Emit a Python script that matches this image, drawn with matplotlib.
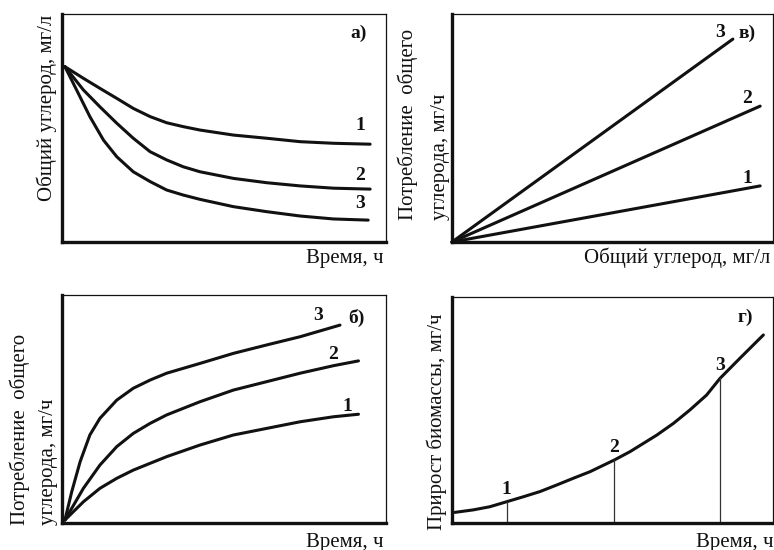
import matplotlib
matplotlib.use("Agg")
import matplotlib.pyplot as plt

W, H = 774, 550

plt.rcParams['font.family'] = ['Liberation Serif', 'DejaVu Serif']

# а) total carbon over time
a_x1 = [0.009, 0.066, 0.117, 0.169, 0.22, 0.272, 0.323, 0.374, 0.426, 0.529, 0.632, 0.735, 0.838, 0.951]
a_y1 = [0.769, 0.718, 0.674, 0.630, 0.586, 0.550, 0.523, 0.506, 0.491, 0.469, 0.455, 0.440, 0.433, 0.429]
a_x2 = [0.009, 0.066, 0.117, 0.169, 0.22, 0.272, 0.323, 0.374, 0.426, 0.529, 0.632, 0.735, 0.838, 0.951]
a_y2 = [0.769, 0.667, 0.593, 0.521, 0.455, 0.396, 0.360, 0.330, 0.308, 0.279, 0.260, 0.246, 0.236, 0.232]
a_x3 = [0.009, 0.045, 0.086, 0.128, 0.169, 0.22, 0.272, 0.323, 0.374, 0.426, 0.529, 0.632, 0.735, 0.838, 0.945]
a_y3 = [0.769, 0.667, 0.550, 0.447, 0.374, 0.308, 0.265, 0.228, 0.206, 0.187, 0.155, 0.133, 0.114, 0.101, 0.096]

# в) uptake vs total carbon (straight lines from origin)
v_x = [0.0, 0.96, 0.96, 0.875]
v_y = [0.0, 0.246, 0.596, 0.89]

# б) uptake over time
b_x1 = [0.009, 0.066, 0.117, 0.169, 0.220, 0.323, 0.426, 0.529, 0.632, 0.735, 0.838, 0.915]
b_y1 = [0.013, 0.093, 0.152, 0.196, 0.232, 0.291, 0.342, 0.386, 0.415, 0.444, 0.466, 0.477]
b_x2 = [0.009, 0.066, 0.117, 0.169, 0.220, 0.272, 0.323, 0.426, 0.529, 0.632, 0.735, 0.838, 0.915]
b_y2 = [0.013, 0.152, 0.254, 0.335, 0.393, 0.437, 0.474, 0.532, 0.583, 0.620, 0.657, 0.690, 0.711]
b_x3 = [0.009, 0.030, 0.056, 0.086, 0.117, 0.169, 0.220, 0.272, 0.323, 0.426, 0.529, 0.632, 0.735, 0.858]
b_y3 = [0.013, 0.137, 0.269, 0.386, 0.459, 0.539, 0.591, 0.627, 0.657, 0.700, 0.744, 0.781, 0.817, 0.868]

# г) biomass growth over time
g_x = [0.009, 0.066, 0.118, 0.170, 0.222, 0.274, 0.326, 0.378, 0.430, 0.506,
       0.555, 0.638, 0.690, 0.741, 0.793, 0.835, 0.897, 0.970]
g_y = [0.047, 0.058, 0.072, 0.094, 0.116, 0.139, 0.168, 0.198, 0.227, 0.279,
       0.316, 0.389, 0.441, 0.500, 0.566, 0.640, 0.729, 0.832]
g_marks = [3, 9, 15]          # indices of the marked points 1, 2, 3

LW = 2.2
INK = '#111111'


def frame(rect_px):
    left, top, right, bottom = rect_px
    ax = fig.add_axes([left / W, 1 - bottom / H, (right - left) / W, (bottom - top) / H])
    ax.set_xlim(0, 1)
    ax.set_ylim(0, 1)
    ax.set_xticks([])
    ax.set_yticks([])
    for side in ('left', 'bottom'):
        ax.spines[side].set_linewidth(2.4)
    for side in ('top', 'right'):
        ax.spines[side].set_linewidth(0.9)
    for s in ax.spines.values():
        s.set_color(INK)
    return ax


def curve(ax, xs, ys):
    ax.plot(xs, ys, color=INK, lw=LW, solid_capstyle='round',
            solid_joinstyle='round', clip_on=False)


def num(ax, x, y, s):
    ax.text(x, y, s, transform=ax.transAxes, fontsize=14, fontweight='bold',
            ha='center', va='center', color=INK)


def ftext(x, y, s, **kw):
    fig.text(x / W, 1 - y / H, s, fontsize=15, color=INK, **kw)


fig = plt.figure(figsize=(W / 100, H / 100), dpi=100)

# panel а
ax = frame((62, 14, 386, 242))
for xs, ys in ((a_x1, a_y1), (a_x2, a_y2), (a_x3, a_y3)):
    curve(ax, xs, ys)
num(ax, 0.92, 0.51, '1')
num(ax, 0.92, 0.29, '2')
num(ax, 0.92, 0.17, '3')
num(ax, 0.915, 0.915, 'а)')
ftext(384, 258, 'Время, ч', ha='right', va='center')
ftext(47, 15, 'Общий углерод, мг/л', rotation=90, ha='center', va='top')

# panel в
ax = frame((452, 14, 773, 242))
for i in (1, 2, 3):
    curve(ax, [v_x[0], v_x[i]], [v_y[0], v_y[i]])
num(ax, 0.92, 0.28, '1')
num(ax, 0.92, 0.63, '2')
num(ax, 0.835, 0.92, '3')
num(ax, 0.92, 0.915, 'в)')
ftext(770, 258, 'Общий углерод, мг/л', ha='right', va='center')
ftext(408, 220, 'Потребление  общего', rotation=90, ha='center', va='bottom')
ftext(440, 220, 'углерода, мг/ч', rotation=90, ha='center', va='bottom')

# panel б
ax = frame((62, 295, 386, 523))
for xs, ys in ((b_x1, b_y1), (b_x2, b_y2), (b_x3, b_y3)):
    curve(ax, xs, ys)
num(ax, 0.88, 0.51, '1')
num(ax, 0.836, 0.737, '2')
num(ax, 0.79, 0.912, '3')
num(ax, 0.91, 0.9, 'б)')
ftext(384, 542, 'Время, ч', ha='right', va='center')
ftext(20, 525, 'Потребление  общего', rotation=90, ha='center', va='bottom')
ftext(49, 525, 'углерода, мг/ч', rotation=90, ha='center', va='bottom')

# panel г
ax = frame((452, 297, 773, 523))
curve(ax, g_x, g_y)
for k, i in enumerate(g_marks):
    ax.plot([g_x[i], g_x[i]], [0, g_y[i]], color='#333333', lw=0.9)
    num(ax, g_x[i], g_y[i] + 0.055, str(k + 1))
num(ax, 0.913, 0.91, 'г)')
ftext(773, 542, 'Время, ч', ha='right', va='center')
ftext(437, 530, 'Прирост биомассы, мг/ч', rotation=90, ha='center', va='bottom')

fig.savefig('out.png', dpi=100, facecolor='white')
